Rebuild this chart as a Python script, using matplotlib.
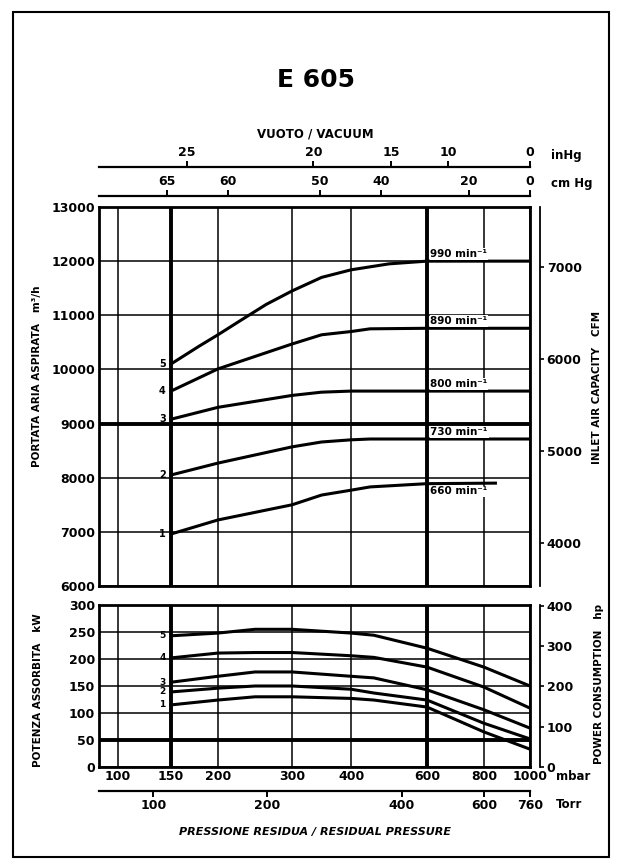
import numpy as np
import matplotlib.pyplot as plt
from matplotlib.patches import Rectangle

plt.rcParams['font.family'] = ['DejaVu Sans']
plt.rcParams['font.weight'] = 'bold'

# pressure scale of the chart paper (mbar -> fraction of the axis width)
SCALE_MBAR = [85, 100, 150, 200, 300, 400, 600, 800, 1000]
SCALE_FRAC = [0.0, 0.044, 0.167, 0.276, 0.448, 0.585, 0.761, 0.893, 1.0]

# tick values
mbar_ticks = [100, 150, 200, 300, 400, 600, 800, 1000]
torr_ticks = [100, 200, 400, 600, 760]
inhg_ticks = [25, 20, 15, 10, 0]
cmhg_ticks = [65, 60, 50, 40, 20, 0]
flow_ticks = [6000, 7000, 8000, 9000, 10000, 11000, 12000, 13000]
cfm_ticks = [4000, 5000, 6000, 7000]
kw_ticks = [0, 50, 100, 150, 200, 250, 300]
hp_ticks = [0, 100, 200, 300, 400]

# curves, one per speed
curve_ids = ['5', '4', '3', '2', '1']
speeds = ['990 min⁻¹', '890 min⁻¹', '800 min⁻¹', '730 min⁻¹', '660 min⁻¹']

# inlet capacity m3/h vs residual pressure mbar
flow_p = [
    [150, 180, 200, 230, 265, 300, 350, 400, 500, 600, 1000],
    [150, 200, 300, 350, 400, 450, 600, 1000],
    [150, 200, 300, 350, 400, 1000],
    [150, 200, 300, 350, 400, 450, 1000],
    [150, 200, 300, 350, 400, 450, 600, 850],
]
flow_q = [
    [10100, 10430, 10640, 10900, 11200, 11450, 11700, 11840, 11950, 12000, 12000],
    [9600, 10010, 10470, 10640, 10700, 10750, 10760, 10760],
    [9080, 9300, 9520, 9580, 9600, 9600],
    [8050, 8270, 8570, 8660, 8700, 8715, 8715],
    [6960, 7220, 7500, 7680, 7770, 7830, 7890, 7900],
]

# absorbed power kW vs residual pressure mbar
power_p = [150, 200, 250, 300, 400, 460, 600, 800, 1000]
power_kw = [
    [243, 248, 255, 255, 248, 244, 220, 185, 150],
    [202, 211, 212, 212, 206, 203, 185, 148, 109],
    [157, 168, 176, 176, 168, 165, 143, 106, 72],
    [139, 146, 150, 150, 144, 137, 124, 81, 52],
    [115, 124, 130, 130, 127, 124, 111, 65, 33],
]


def fwd(p):
    return np.interp(p, SCALE_MBAR, SCALE_FRAC)


def inv(f):
    return np.interp(f, SCALE_FRAC, SCALE_MBAR)


W, H = 622, 865


def box(l, t, r, b):
    return [l / W, 1 - b / H, (r - l) / W, (b - t) / H]


def set_pscale(ax):
    ax.set_xscale('function', functions=(fwd, inv))
    ax.set_xlim(SCALE_MBAR[0], SCALE_MBAR[-1])


fig = plt.figure(figsize=(6.22, 8.65), dpi=100)

ax1 = fig.add_axes(box(99, 207, 530, 586))
ax2 = fig.add_axes(box(99, 605, 530, 767))

for ax in (ax1, ax2):
    set_pscale(ax)
    ax.set_xticks(mbar_ticks)
    ax.grid(True, color='black', lw=1.1)
    ax.axvline(150, color='black', lw=2.8)
    ax.axvline(600, color='black', lw=2.8)
    for s in ax.spines.values():
        s.set_linewidth(2)
    ax.tick_params(axis='y', length=0, pad=3, labelsize=9)
    ax.tick_params(axis='x', length=0, labelsize=9)

ax1.set_ylim(6000, 13000)
ax1.set_yticks(flow_ticks)
ax1.tick_params(axis='x', labelbottom=False)
ax1.axhline(9000, color='black', lw=2.8)

ax2.set_ylim(0, 300)
ax2.set_yticks(kw_ticks)
ax2.set_xticklabels([str(v) for v in mbar_ticks])
ax2.tick_params(axis='x', pad=2)
ax2.axhline(50, color='black', lw=2.8)

# curves
for i in range(5):
    ax1.plot(flow_p[i], flow_q[i], color='black', lw=2.2, zorder=5)
    ax1.text(142, flow_q[i][0], curve_ids[i], fontsize=7, ha='center',
             va='center', zorder=6)
    if i < 4:
        ax1.text(612, flow_q[i][-1] + 40, speeds[i], fontsize=7.5, ha='left',
                 va='bottom', zorder=6,
                 bbox=dict(facecolor='white', edgecolor='none', pad=0.5))
    else:
        ax1.text(612, flow_q[i][-1] - 60, speeds[i], fontsize=7.5, ha='left',
                 va='top', zorder=6,
                 bbox=dict(facecolor='white', edgecolor='none', pad=0.5))

for i in range(5):
    ax2.plot(power_p, power_kw[i], color='black', lw=2.2, zorder=5)
    ax2.text(142, power_kw[i][0], curve_ids[i], fontsize=6.5, ha='center',
             va='center', zorder=6)

# right hand scales
t1 = ax1.twinx()
t1.set_ylim(6000 / 1.699, 13000 / 1.699)
t1.set_yticks(cfm_ticks)
t2 = ax2.twinx()
t2.set_ylim(0, 300 * 1.341)
t2.set_yticks(hp_ticks)
for t in (t1, t2):
    for k in ('top', 'bottom', 'left'):
        t.spines[k].set_visible(False)
    t.spines['right'].set_position(('outward', 7))
    t.spines['right'].set_linewidth(1.3)
    t.tick_params(axis='y', direction='out', length=3, width=1.2, pad=2,
                  labelsize=9)


def scale_axis(top, bottom, vals, mbar, where):
    a = fig.add_axes(box(99, top, 530, bottom))
    set_pscale(a)
    a.patch.set_visible(False)
    a.set_yticks([])
    for s in a.spines.values():
        s.set_visible(False)
    a.spines[where].set_visible(True)
    a.spines[where].set_linewidth(1.6)
    a.set_xticks(mbar)
    a.set_xticklabels([str(v) for v in vals])
    if where == 'top':
        a.xaxis.tick_top()
    a.tick_params(axis='x', direction='out', length=4, width=1.4, pad=2,
                  labelsize=9)
    return a


# other units converted to residual pressure in mbar
inhg_mbar = [min((29.92 - v) * 33.8639, 1000) for v in inhg_ticks]
cmhg_mbar = [min((76 - v) * 13.3322, 1000) for v in cmhg_ticks]
torr_mbar = [min(v * 1.33322, 1000) for v in torr_ticks]

scale_axis(167, 168, inhg_ticks, inhg_mbar, 'top')
scale_axis(196, 197, cmhg_ticks, cmhg_mbar, 'top')
scale_axis(790, 791, torr_ticks, torr_mbar, 'bottom')

# texts
fig.text(316 / W, 1 - 80 / H, 'E 605', ha='center', va='center', fontsize=18)
fig.text(315 / W, 1 - 134 / H, 'VUOTO / VACUUM', ha='center', va='center',
         fontsize=8.5)
fig.text(315 / W, 1 - 832 / H, 'PRESSIONE RESIDUA / RESIDUAL PRESSURE',
         ha='center', va='center', fontsize=8, style='italic')
fig.text(551 / W, 1 - 155 / H, 'inHg', ha='left', va='center', fontsize=8.5)
fig.text(551 / W, 1 - 183 / H, 'cm Hg', ha='left', va='center', fontsize=8.5)
fig.text(556 / W, 1 - 776 / H, 'mbar', ha='left', va='center', fontsize=8.5)
fig.text(556 / W, 1 - 805 / H, 'Torr', ha='left', va='center', fontsize=8.5)

fig.text(37 / W, 1 - 376 / H, 'PORTATA ARIA ASPIRATA   m³/h', rotation=90,
         ha='center', va='center', fontsize=7.5)
fig.text(597 / W, 1 - 387 / H, 'INLET AIR CAPACITY   CFM', rotation=90,
         ha='center', va='center', fontsize=7.5)
fig.text(38 / W, 1 - 690 / H, 'POTENZA ASSORBITA   kW', rotation=90,
         ha='center', va='center', fontsize=7.5)
fig.text(599 / W, 1 - 684 / H, 'POWER CONSUMPTION   hp', rotation=90,
         ha='center', va='center', fontsize=7.5)

fig.add_artist(Rectangle((13 / W, 1 - 857 / H), 596 / W, 845 / H,
                         transform=fig.transFigure, fill=False, lw=1.5,
                         color='black'))

fig.savefig('out.png', dpi=100)
